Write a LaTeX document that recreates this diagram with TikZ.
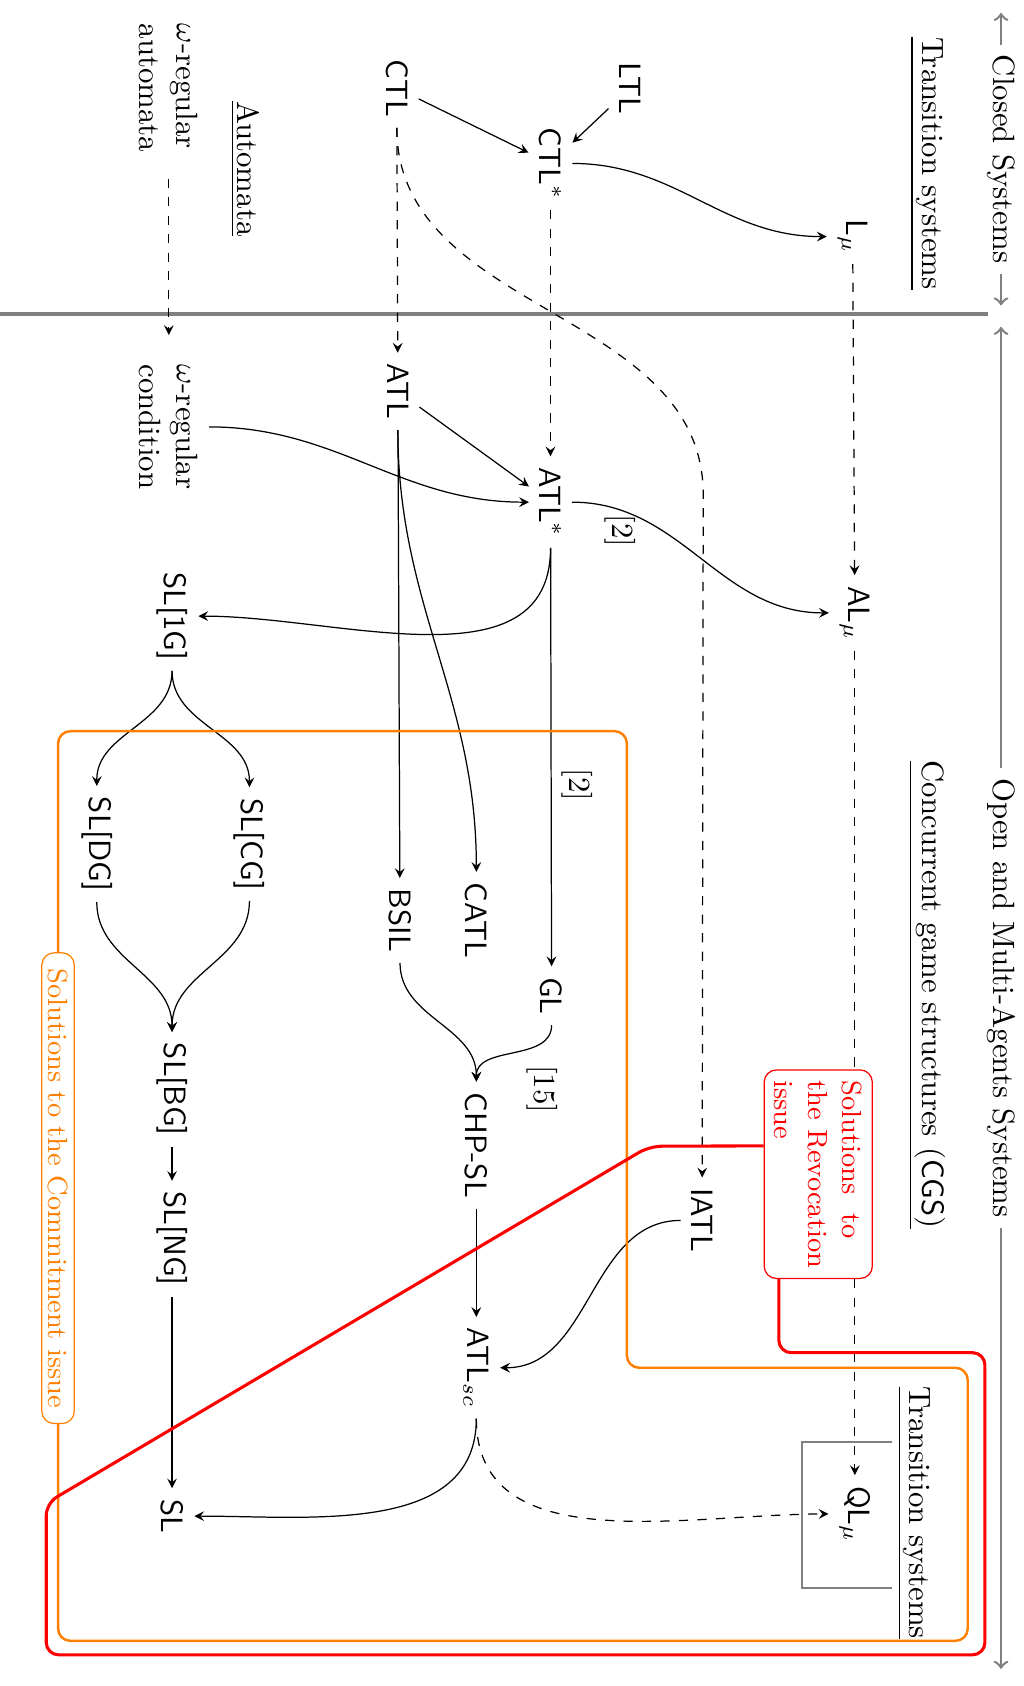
\documentclass[tikz,border=0pt]{standalone}
\usetikzlibrary{calc}
\begin{document}
\begin{tikzpicture}[x=0.349pt,y=-0.349pt,>=stealth,
	logic/.style={font=\sffamily,rotate=-90},
	txt/.style={rotate=-90},
	sysarrow/.style={gray,line width=0.8pt,<->,>=to},
	issuebox/.style={txt,fill=white,rounded corners,font=\small}]
	\useasboundingbox (0,0) rectangle (952,1568);
	% systems
	\coordinate (csTop) at (931,12);
	\coordinate (csBot) at (931,284);
	\draw[sysarrow] (csTop) -- node[txt,fill=white,text=black] (cs) {Closed Systems} (csBot);
	\coordinate (osTop) at (931,304);
	\coordinate (osBot) at (931,1552);
	\draw[sysarrow] (osTop) -- node[txt,fill=white,text=black] (os) {Open and Multi-Agents Systems} (osBot);
	\draw[gray,line width=1pt] (0,292) -- (919,292);
	\node[txt] (ts1) at (862,152) {\underline{Transition systems}};
	\node[txt] (aut) at (228,157) {\underline{Automata}};
	\node[txt] (cgs) at (862,925) {\underline{Concurrent game structures (\textsf{CGS})}};
	\node[txt] (ts2) at (850,1407) {\underline{Transition systems}};
	% logics
	\node[txt,align=left] (wAut) at (157,82) {$\omega$-regular\\automata};
	\node[logic] (CTL) at (369,82) {CTL};
	\node[logic] (LTL) at (586,82) {LTL};
	\node[logic] (CTLs) at (512,152) {CTL$^*$};
	\node[logic] (Lmu) at (793,220) {L$_\mu$};
	\node[txt,align=left] (wCond) at (157,397) {$\omega$-regular\\condition};
	\node[logic] (ATL) at (370,364) {ATL};
	\node[logic] (ATLs) at (512,467) {ATL$^*$};
	\node[logic] (ALmu) at (795,570) {AL$_\mu$};
	\node[logic] (SLoneG) at (160,573) {SL[1G]};
	\node[logic] (SLCG) at (232,785) {SL[CG]};
	\node[logic] (SLDG) at (90,785) {SL[DG]};
	\node[logic] (BSIL) at (372,856) {BSIL};
	\node[logic] (CATL) at (443,856) {CATL};
	\node[logic] (GL) at (513,926) {GL};
	\node[logic] (SLBG) at (160,1013) {SL[BG]};
	\node[logic] (CHPSL) at (443,1065) {CHP-SL};
	\node[logic] (IATL) at (653,1135) {IATL};
	\node[logic] (SLNG) at (160,1152) {SL[NG]};
	\node[logic] (ATLsc) at (443,1272) {ATL$_{sc}$};
	\node[logic] (SL) at (160,1410) {SL};
	\node[logic] (QLmu) at (795,1408) {QL$_\mu$};
	% references
	\node[txt] (refA) at (577,494) {[2]};
	\node[txt] (refB) at (537,730) {[2]};
	\node[txt] (refC) at (504,1013) {[15]};
	% arrows
	\draw[->,dashed,shorten <=5pt,shorten >=6pt] (wAut) -- (wCond);
	\draw[->] (CTL) -- (CTLs);
	\draw[->] (LTL) -- (CTLs);
	\draw[->] (CTLs.north) to[out=0,in=180] (Lmu.south);
	\draw[->,dashed] (CTL) -- (ATL);
	\draw[->,dashed] (CTLs) -- (ATLs);
	\draw[->,dashed] (Lmu) -- (ALmu);
	\coordinate (bend) at (654,460);
	\draw[->,dashed] (CTL.east) to[out=-90,in=90] (bend) -- (IATL);
	\draw[->] (ATL) -- (ATLs);
	\draw[->] (wCond.north) to[out=0,in=180] (ATLs.south);
	\draw[->] (ATLs.north) to[out=0,in=180] (ALmu.south);
	\draw[->] (ATLs.east) to[out=-90,in=0] (SLoneG.north);
	\draw[->] (ATLs) -- (GL);
	\draw[->] (ATL) -- (BSIL);
	\draw[->] (ATL.east) to[out=-90,in=90] (CATL.west);
	\draw[->] (SLoneG.east) to[out=-90,in=90] (SLCG.west);
	\draw[->] (SLoneG.east) to[out=-90,in=90] (SLDG.west);
	\draw[->] (SLCG.east) to[out=-90,in=90] (SLBG.west);
	\draw[->] (SLDG.east) to[out=-90,in=90] (SLBG.west);
	\draw[->] (SLBG) -- (SLNG);
	\draw[->] (SLNG) -- (SL);
	\draw[->] (BSIL.east) to[out=-90,in=90] (CHPSL.west);
	\draw[->] (GL.east) to[out=-90,in=90] (CHPSL.west);
	\draw[->] (CHPSL) -- (ATLsc);
	\draw[->] (IATL.south) to[out=180,in=0] (ATLsc.north);
	\draw[->] (ATLsc.east) to[out=-90,in=0] (SL.north);
	\draw[->,dashed] (ATLsc.east) to[out=-90,in=180] (QLmu.south);
	\draw[->,dashed] (ALmu) -- (QLmu);
	\draw[gray,line width=0.8pt] (830,1341) -- (746,1341) -- (746,1477) -- (830,1477);
	% issues
	\node[issuebox,draw=orange,text=orange,inner xsep=5pt,inner ysep=2pt] (com) at (54,1105) {Solutions to the Commitment issue};
	\draw[orange,line width=0.8pt,rounded corners] (com.west) -- (54,680) -- (583,680) -- (583,1272) -- (900,1272) -- (900,1526) -- (54,1526) -- (com.east);
	\node[issuebox,draw=red,text=red,align=left] (rev) at (761,1092) {Solutions\ \ to\\the Revocation\\issue};
	\draw[red,line width=1pt,rounded corners] ($(rev.south)!0.27!(rev.south west)$) -- (604,1066) -- (43,1398) -- (43,1539) -- (916,1539) -- (916,1258) -| ($(rev.east)!0.72!(rev.south east)$);
\end{tikzpicture}
\end{document}
